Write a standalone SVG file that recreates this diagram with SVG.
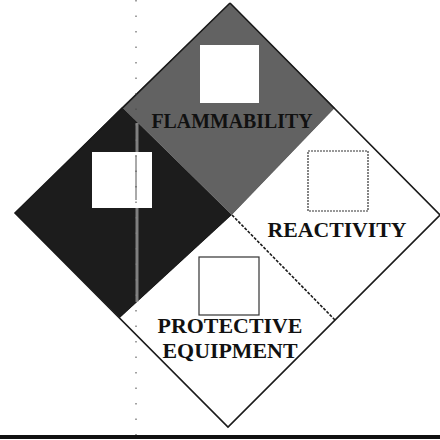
<svg xmlns="http://www.w3.org/2000/svg" width="440" height="440" viewBox="0 0 440 440">
<style>
.lbl{font-family:"Liberation Serif","Times New Roman",serif;font-weight:bold;font-size:21px;fill:#111;text-anchor:middle}
.box{fill:#fff}
.obox{fill:#fff;stroke:#333;stroke-width:1.2}
.edge{fill:none;stroke:#1a1a1a;stroke-width:1.6}
</style>
<rect width="440" height="440" fill="#fff"/>
<g id="flammability">
<polygon points="230,3 335,108 232,215 122,107" fill="#626262"/>
<rect class="box" x="200" y="45" width="59" height="58"/>
<text class="lbl" x="232" y="128" font-size="20" textLength="161" lengthAdjust="spacingAndGlyphs" fill="#1e1e1e">FLAMMABILITY</text>
</g>
<g id="health">
<polygon points="122,107 232,215 120,318 15,213" fill="#1c1c1c"/>
<rect class="box" x="92" y="152" width="60" height="56"/>
</g>
<g id="reactivity">
<polygon points="335,108 440,215 335,320 232,215" fill="#fff"/>
<rect class="obox" x="308" y="151" width="60" height="60" stroke-dasharray="2,1"/>
<text class="lbl" x="337" y="237" textLength="139" lengthAdjust="spacingAndGlyphs">REACTIVITY</text>
</g>
<g id="protective-equipment">
<polygon points="232,215 335,320 228,427 120,318" fill="#fff"/>
<rect class="obox" x="199" y="257" width="60" height="58"/>
<text class="lbl" x="230" y="333" textLength="145" lengthAdjust="spacingAndGlyphs">PROTECTIVE</text>
<text class="lbl" x="230" y="358" textLength="135" lengthAdjust="spacingAndGlyphs">EQUIPMENT</text>
</g>
<g id="connectors">
<polyline class="edge" points="230,3 440,215 228,427 15,213 230,3"/>
<line class="edge" x1="232" y1="215" x2="335" y2="320" stroke-dasharray="3,1.5"/>
<line x1="136" y1="0" x2="136" y2="435" stroke="#444" stroke-width="1" stroke-dasharray="1.5,14"/>
<line x1="137" y1="123" x2="137" y2="152" stroke="#aaa" stroke-width="3" opacity="0.7"/>
<line x1="137" y1="208" x2="137" y2="302" stroke="#aaa" stroke-width="3" opacity="0.7"/>
<line x1="136" y1="156" x2="136" y2="200" stroke="#555" stroke-width="1"/>
<rect x="0" y="435" width="440" height="4" fill="#111"/>
</g>
</svg>
